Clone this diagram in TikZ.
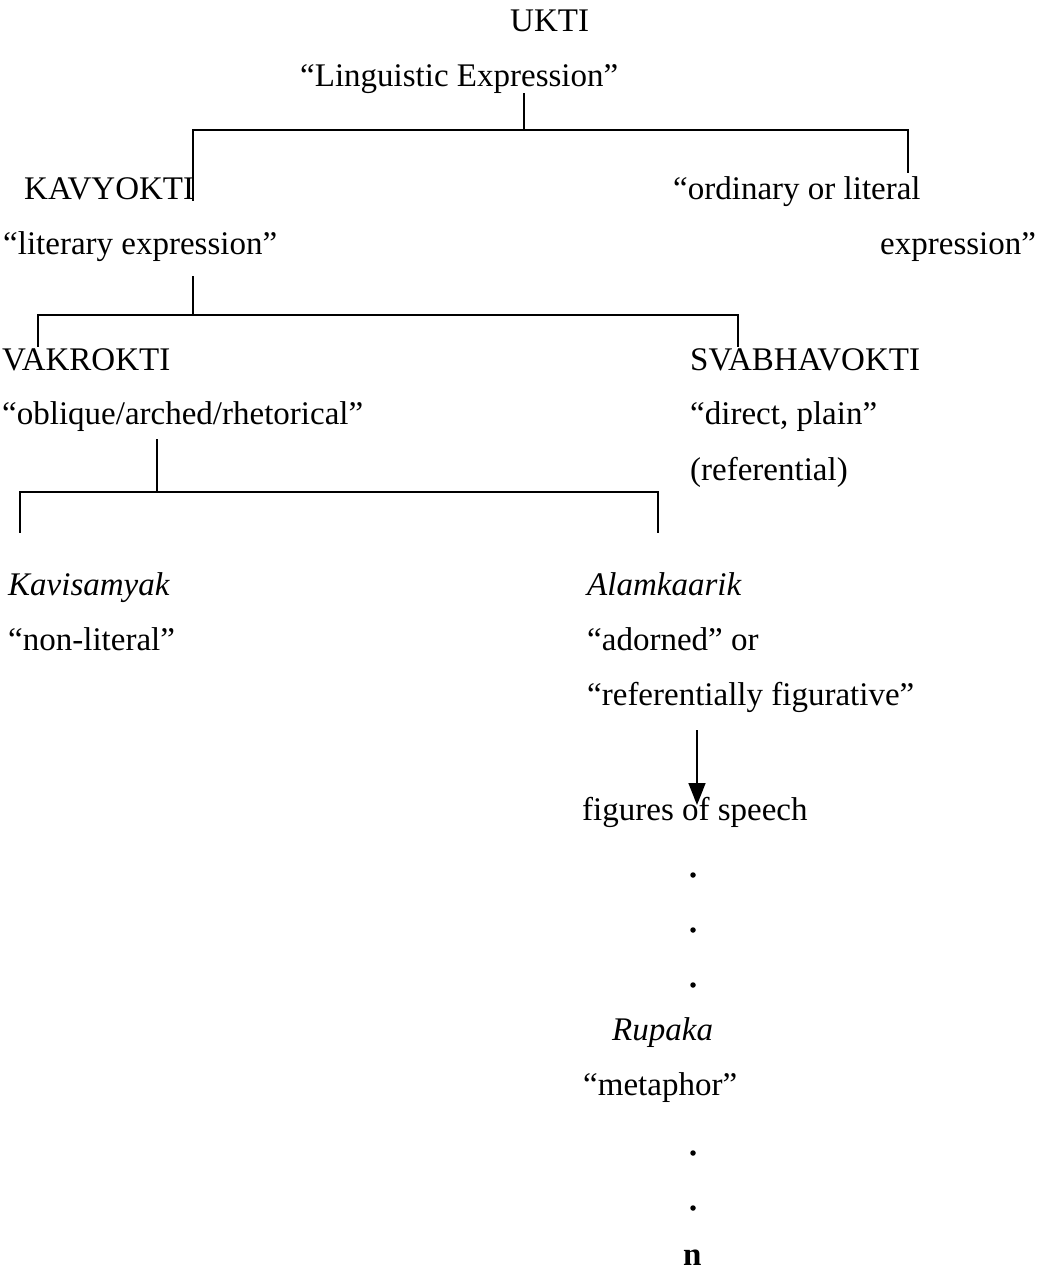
\documentclass[tikz,border=0pt]{standalone}
\usepackage{fontspec}
\setmainfont{Liberation Serif}
\usetikzlibrary{arrows.meta}
\begin{document}
\begin{tikzpicture}[x=1pt,y=-1pt,
  txt/.style={anchor=base west, inner sep=0pt, font=\fontsize{33}{40}\selectfont},
  dotmark/.style={circle, fill=black, inner sep=0pt, minimum size=5.5pt},
  branch/.style={line width=1.6pt, line cap=rect},
  pointer/.style={line width=1.6pt, -{Triangle[length=22pt,width=17pt]}}]
\useasboundingbox (0,0) rectangle (1037,1276);

% level 0
\node[txt] (ukti) at (510,32) {UKTI};
\node[txt] (ling) at (300,87) {``Linguistic Expression''};

% level 1
\node[txt] (kavy) at (24,200) {KAVYOKTI};
\node[txt] (kavyg) at (3,254) {``literary expression''};
\node[txt] (ord) at (673,200) {``ordinary or literal};
\node[txt] (ordb) at (880,254) {expression''};

% level 2
\node[txt] (vakr) at (2,370) {VAKROKTI};
\node[txt] (vakrg) at (2,424) {``oblique/arched/rhetorical''};
\node[txt] (svab) at (690,370) {SVABHAVOKTI};
\node[txt] (svabg) at (690,424) {``direct, plain''};
\node[txt] (svabr) at (690,480) {(referential)};

% level 3
\node[txt] (kavi) at (8,595) {\itshape Kavisamyak};
\node[txt] (kavig) at (8,650) {``non-literal''};
\node[txt] (alam) at (587,595) {\itshape Alamkaarik};
\node[txt] (alamg) at (587,650) {``adorned'' or};
\node[txt] (alamf) at (587,705) {``referentially figurative''};

% figures of speech chain
\node[txt] (figs) at (582,820) {figures of speech};
\node[dotmark] (d1) at (693,875) {};
\node[dotmark] (d2) at (693,930) {};
\node[dotmark] (d3) at (693,985) {};
\node[txt] (rupa) at (612,1040) {\itshape Rupaka};
\node[txt] (meta) at (583,1095) {``metaphor''};
\node[dotmark] (d4) at (693,1153) {};
\node[dotmark] (d5) at (693,1208) {};
\node[txt] (nn) at (683,1265) {\bfseries n};

% bracket joints
\coordinate (s0) at (524,94);
\coordinate (j0) at (524,130);
\coordinate (j0l) at (193,130);
\coordinate (j0r) at (908,130);
\coordinate (e0l) at (193,200);
\coordinate (e0r) at (908,172);

\coordinate (s1) at (193,277);
\coordinate (j1) at (193,315);
\coordinate (j1l) at (38,315);
\coordinate (j1r) at (738,315);
\coordinate (e1l) at (38,346);
\coordinate (e1r) at (738,346);

\coordinate (s2) at (157,440);
\coordinate (j2) at (157,492);
\coordinate (j2l) at (20,492);
\coordinate (j2r) at (658,492);
\coordinate (e2l) at (20,532);
\coordinate (e2r) at (658,532);

\coordinate (a0) at (697,730);
\coordinate (a1) at (697,805);

% brackets
\draw[branch] (s0) -- (j0);
\draw[branch] (e0l) -- (j0l) -- (j0r) -- (e0r);
\draw[branch] (s1) -- (j1);
\draw[branch] (e1l) -- (j1l) -- (j1r) -- (e1r);
\draw[branch] (s2) -- (j2);
\draw[branch] (e2l) -- (j2l) -- (j2r) -- (e2r);

% arrow to figures of speech
\draw[pointer] (a0) -- (a1);
\end{tikzpicture}
\end{document}
